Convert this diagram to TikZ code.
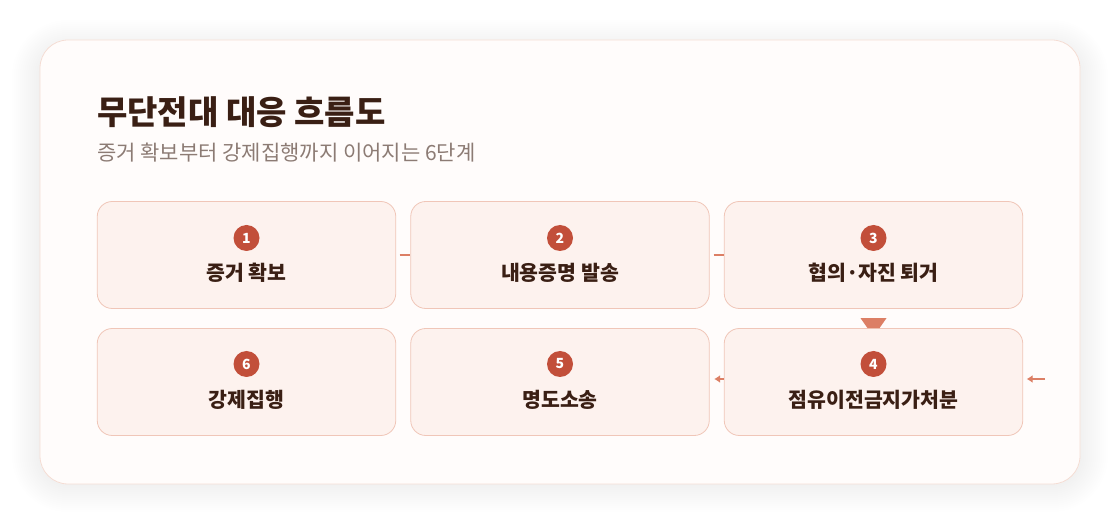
\documentclass[tikz,border=0pt]{standalone}
\usepackage{fontspec}
\setmainfont{Noto Sans CJK KR}
\usetikzlibrary{positioning,arrows.meta}

\definecolor{cardfill}{HTML}{FFFCFB}
\definecolor{cardline}{HTML}{F5DDD4}
\definecolor{boxfill}{HTML}{FDF2EE}
\definecolor{boxline}{HTML}{F0C6B8}
\definecolor{numfill}{HTML}{C24F3A}
\definecolor{linkcol}{HTML}{DC7F65}
\definecolor{ink}{HTML}{3A1F14}
\definecolor{subink}{HTML}{8C7B74}

\begin{document}
\begin{tikzpicture}[x=1pt,y=-1pt,node distance=127pt and 313.5pt,on grid,
  stepbox/.style={draw=boxline,fill=boxfill,line width=0.8pt,rounded corners=15pt,
    minimum width=298.5pt,minimum height=107pt},
  num/.style={circle,fill=numfill,text=white,inner sep=0pt,minimum size=26pt,
    font=\bfseries\fontsize{14}{14}\selectfont},
  steplabel/.style={anchor=base,text=ink,font=\bfseries\fontsize{20.5}{24}\selectfont},
  link/.style={draw=linkcol,line width=2pt},
  arr/.style={link,-{Latex[length=6pt,width=8pt]}}]
  \useasboundingbox (0,0) rectangle (1120,526);
  % shadow and card
  \foreach \i [evaluate=\i as \r using 28+2*\i] in {1,...,14}
    \fill[black,opacity=0.0035,rounded corners=\r pt]
      (40-2*\i,48-2*\i) rectangle (1080+2*\i,484+2*\i);
  \fill[cardfill,draw=cardline,line width=0.8pt,rounded corners=28pt]
    (40,40) rectangle (1080,484);
  % heading
  \node[anchor=base west,inner sep=0pt,text=ink,font=\bfseries\fontsize{33}{38}\selectfont]
    (title) at (97,125) {무단전대 대응 흐름도};
  \node[anchor=base west,inner sep=0pt,text=subink,font=\fontsize{21}{24}\selectfont]
    (subtitle) at (97,161) {증거 확보부터 강제집행까지 이어지는 6단계};
  % steps
  \node[stepbox] (s1) at (246.5,255) {};
  \node[stepbox] (s2) [right=of s1] {};
  \node[stepbox] (s3) [right=of s2] {};
  \node[stepbox] (s4) [below=of s3] {};
  \node[stepbox] (s5) [left=of s4] {};
  \node[stepbox] (s6) [left=of s5] {};
  \node[num] (n1) at ([yshift=17pt]s1.center) {1};
  \node[num] (n2) at ([yshift=17pt]s2.center) {2};
  \node[num] (n3) at ([yshift=17pt]s3.center) {3};
  \node[num] (n4) at ([yshift=18pt]s4.center) {4};
  \node[num] (n5) at ([yshift=18pt]s5.center) {5};
  \node[num] (n6) at ([yshift=18pt]s6.center) {6};
  \node[steplabel] (l1) at ([yshift=-26pt]s1.center) {증거 확보};
  \node[steplabel] (l2) at ([yshift=-26pt]s2.center) {내용증명 발송};
  \node[steplabel] (l3) at ([yshift=-26pt]s3.center) {협의·자진 퇴거};
  \node[steplabel] (l4) at ([yshift=-26pt]s4.center) {점유이전금지가처분};
  \node[steplabel] (l5) at ([yshift=-26pt]s5.center) {명도소송};
  \node[steplabel] (l6) at ([yshift=-26pt]s6.center) {강제집행};
  % connectors
  \draw[link,shorten <=3.5pt] (s1.east) -- (s2.west);
  \draw[link,shorten <=4pt] (s2.east) -- (s3.west);
  \fill[linkcol] ([shift={(-13,-10)}]s4.north) -- ([shift={(13,-10)}]s4.north)
    -- ([shift={(6,0)}]s4.north) -- ([shift={(-6,0)}]s4.north) -- cycle;
  \coordinate (in4) at ([shift={(22,-3)}]s4.east);
  \draw[arr,shorten >=3.5pt] (in4) -- ([yshift=3pt]s4.east);
  \draw[arr,shorten >=4.5pt] ([yshift=3pt]s4.west) -- ([yshift=3pt]s5.east);
\end{tikzpicture}
\end{document}
